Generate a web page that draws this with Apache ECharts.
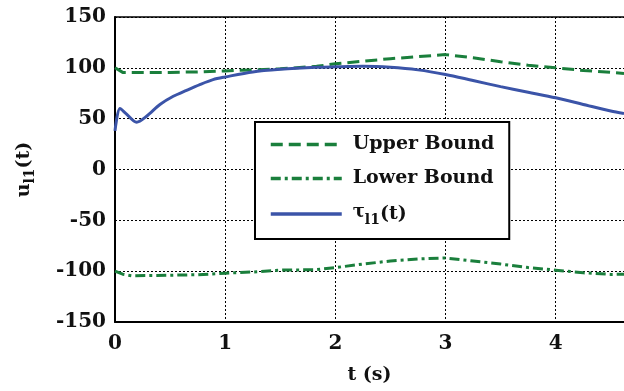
<!DOCTYPE html>
<html>
<head>
<meta charset="utf-8">
<script src="https://cdn.jsdelivr.net/npm/echarts@6/dist/echarts.min.js"></script>
<style>html,body{margin:0;padding:0;background:#fff}#c{width:624px;height:391px}</style>
</head>
<body>
<div id="c"></div>
<script>
var xTicks = [0, 1, 2, 3, 4];
var yTicks = [-150, -100, -50, 0, 50, 100, 150];
var boundT = [0, 0.07, 0.15, 0.5, 0.75, 1, 1.25, 1.5, 1.83, 2, 2.25, 2.5, 2.75, 3, 3.25, 3.5, 3.75, 4, 4.25, 4.5, 4.62];
var upperV = [100, 95.5, 95.5, 95.5, 96, 97, 98, 99, 101.5, 104, 106.5, 109, 111, 113, 110, 106, 102.6, 100, 97.4, 95.5, 94.5];
var lowerV = [-100, -103, -104.5, -104, -103.5, -102, -100.8, -99, -98.5, -96.5, -93, -90, -88, -87, -90, -93, -96.5, -99, -101.6, -103.2, -103];
var tauT = [0, 0.045, 0.1, 0.196, 0.287, 0.408, 0.529, 0.65, 0.77, 0.89, 1, 1.25, 1.5, 1.83, 2, 2.25, 2.5, 2.75, 3, 3.25, 3.5, 3.75, 4, 4.25, 4.5, 4.62];
var tauV = [38, 60, 55, 46.5, 52.4, 63.9, 72, 77.9, 83.5, 88.4, 91, 96, 98.5, 100.5, 101, 101.5, 100.5, 98, 93.5, 87.5, 81.5, 76, 70.5, 64, 57.5, 55];

function zip(a, b) { return a.map(function (v, i) { return [v, b[i]]; }); }

var FONT = 'DejaVu Serif';
var GREEN = '#1a7f3c';
var BLUE = '#3b54a8';

var chart = echarts.init(document.getElementById('c'), null, {renderer: 'canvas'});
chart.setOption({
  animation: false,
  backgroundColor: '#fff',
  grid: {left: 115, right: 0, top: 17, bottom: 69, containLabel: false},
  legend: {
    left: 255, top: 122,
    orient: 'vertical',
    itemWidth: 71, itemHeight: 20, itemGap: 15,
    padding: [13, 15, 12, 14],
    borderColor: '#000', borderWidth: 2,
    backgroundColor: '#fff',
    itemStyle: {opacity: 0},
    lineStyle: {width: 3.5},
    data: ['Upper Bound', 'Lower Bound', 'tau'],
    formatter: function (n) { return n === 'tau' ? '{g|τ}{s|l1}{b|(t)}' : '{b|' + n + '}'; },
    textStyle: {
      fontFamily: FONT, fontWeight: 'bold', fontSize: 19, color: '#111',
      padding: [0, 0, 0, 6],
      rich: {
        b: {fontFamily: FONT, fontWeight: 'bold', fontSize: 19, color: '#111'},
        g: {fontFamily: FONT, fontSize: 18, color: '#111', padding: [0, 0, 4, 0]},
        s: {fontFamily: FONT, fontWeight: 'bold', fontSize: 14, color: '#111', padding: [12, 0, 0, 0]}
      }
    }
  },
  xAxis: [{
    type: 'value', min: 0, max: 4.62, interval: 1,
    name: 't (s)', nameLocation: 'middle', nameGap: 44,
    nameTextStyle: {fontFamily: FONT, fontWeight: 'bold', fontSize: 19, color: '#111'},
    axisLine: {show: true, onZero: false, lineStyle: {color: '#000', width: 2}},
    axisTick: {show: false},
    axisLabel: {
      fontFamily: FONT, fontWeight: 'bold', fontSize: 20, color: '#111', margin: 12, showMaxLabel: false,
      formatter: function (v) { return xTicks.indexOf(v) >= 0 ? String(v) : ''; }
    },
    splitLine: {show: true, lineStyle: {color: '#000', width: 1, type: [2, 2]}}
  }, {
    type: 'value', position: 'top', min: 0, max: 4.62,
    axisLine: {show: true, onZero: false, lineStyle: {color: '#000', width: 1.5}},
    axisTick: {show: false}, axisLabel: {show: false}, splitLine: {show: false}
  }],
  yAxis: {
    type: 'value', min: -150, max: 150, interval: 50,
    name: '{b|u}{s|l1}{b|(t)}', nameLocation: 'middle', nameGap: 78, nameRotate: 90,
    nameTextStyle: {
      rich: {
        b: {fontFamily: FONT, fontWeight: 'bold', fontSize: 19, color: '#111'},
        s: {fontFamily: FONT, fontWeight: 'bold', fontSize: 14, color: '#111', padding: [12, 0, 0, 0]}
      }
    },
    axisLine: {show: true, onZero: false, lineStyle: {color: '#000', width: 2}},
    axisTick: {show: false},
    axisLabel: {
      fontFamily: FONT, fontWeight: 'bold', fontSize: 20, color: '#111', margin: 9,
      formatter: function (v) { return yTicks.indexOf(v) >= 0 ? String(v) : ''; }
    },
    splitLine: {show: true, lineStyle: {color: '#000', width: 1, type: [2, 2]}}
  },
  series: [{
    name: 'Upper Bound', type: 'line', symbol: 'none', showSymbol: false,
    data: zip(boundT, upperV),
    lineStyle: {color: GREEN, width: 3, type: [12, 6]},
    itemStyle: {color: GREEN}, z: 3
  }, {
    name: 'Lower Bound', type: 'line', symbol: 'none', showSymbol: false,
    data: zip(boundT, lowerV),
    lineStyle: {color: GREEN, width: 3, type: [10, 4, 3, 4]},
    itemStyle: {color: GREEN}, z: 3
  }, {
    name: 'tau', type: 'line', symbol: 'none', showSymbol: false, smooth: 0.3,
    data: zip(tauT, tauV),
    lineStyle: {color: BLUE, width: 3},
    itemStyle: {color: BLUE}, z: 4
  }]
});
</script>
</body>
</html>
